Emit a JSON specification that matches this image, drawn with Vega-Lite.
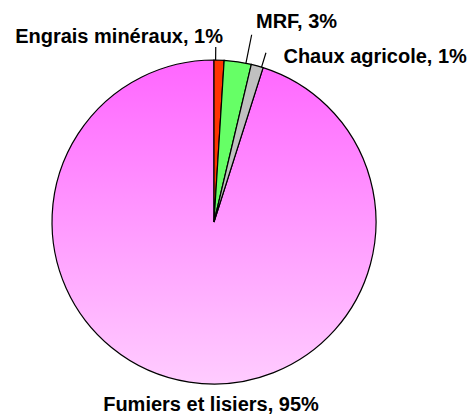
{
  "$schema": "https://vega.github.io/schema/vega-lite/v6.json",
  "width": 428,
  "height": 444,
  "autosize": {"type": "none"},
  "padding": {"left": 0, "top": 0, "right": 45, "bottom": 0},
  "background": "white",
  "config": {"view": {"stroke": null}},
  "data": {
    "values": [
      {"category": "Engrais minéraux", "value": 1.0, "label": "Engrais minéraux, 1%"},
      {"category": "MRF", "value": 2.7, "label": "MRF, 3%"},
      {"category": "Chaux agricole", "value": 1.2, "label": "Chaux agricole, 1%"},
      {"category": "Fumiers et lisiers", "value": 95.1, "label": "Fumiers et lisiers, 95%"}
    ]
  },
  "transform": [{"stack": "value", "groupby": [], "as": ["start", "end"]}],
  "layer": [
    {
      "transform": [{"filter": "datum.category === 'Fumiers et lisiers'"}],
      "mark": {
        "type": "arc",
        "radius": 162,
        "stroke": "black",
        "strokeWidth": 1.2,
        "fill": {
          "gradient": "linear",
          "x1": 0, "y1": 0, "x2": 0, "y2": 1,
          "stops": [
            {"offset": 0, "color": "#FF66FF"},
            {"offset": 1, "color": "#FFCCFF"}
          ]
        }
      },
      "encoding": {
        "theta": {"field": "start", "type": "quantitative", "scale": {"domain": [0, 100]}},
        "theta2": {"field": "end"}
      }
    },
    {
      "transform": [{"filter": "datum.category !== 'Fumiers et lisiers'"}],
      "mark": {"type": "arc", "radius": 162, "stroke": "black", "strokeWidth": 1.2},
      "encoding": {
        "theta": {"field": "start", "type": "quantitative"},
        "theta2": {"field": "end"},
        "color": {
          "field": "category",
          "type": "nominal",
          "scale": {
            "domain": ["Engrais minéraux", "MRF", "Chaux agricole"],
            "range": ["#FF3300", "#66FF66", "#C0C0C0"]
          },
          "legend": null
        }
      }
    },
    {
      "transform": [{"filter": "datum.category === 'Engrais minéraux'"}],
      "mark": {"type": "arc", "radius": 175, "radius2": 162, "stroke": "black", "strokeWidth": 1.2, "thetaOffset": 0.01, "theta2Offset": 0.01},
      "encoding": {
        "theta": {"field": "start", "type": "quantitative"},
        "theta2": {"field": "start"}
      }
    },
    {
      "transform": [{"filter": "datum.category === 'MRF'"}],
      "mark": {"type": "arc", "radius": 191, "radius2": 162, "stroke": "black", "strokeWidth": 1.2, "thetaOffset": -0.034, "theta2Offset": -0.034},
      "encoding": {
        "theta": {"field": "end", "type": "quantitative"},
        "theta2": {"field": "end"}
      }
    },
    {
      "transform": [{"filter": "datum.category === 'Chaux agricole'"}],
      "mark": {"type": "arc", "radius": 177, "radius2": 162, "stroke": "black", "strokeWidth": 1.2, "thetaOffset": -0.01, "theta2Offset": -0.01},
      "encoding": {
        "theta": {"field": "end", "type": "quantitative"},
        "theta2": {"field": "end"}
      }
    },
    {
      "transform": [{"filter": "datum.category === 'Engrais minéraux'"}],
      "mark": {"type": "text", "radius": 179.3, "align": "right", "baseline": "alphabetic", "dx": 9, "font": "Liberation Sans", "fontSize": 20, "fontWeight": "bold", "color": "black"},
      "encoding": {
        "theta": {"field": "start", "type": "quantitative"},
        "text": {"field": "label"}
      }
    },
    {
      "transform": [{"filter": "datum.category === 'MRF'"}],
      "mark": {"type": "text", "radius": 199.7, "align": "left", "baseline": "alphabetic", "dx": -4, "font": "Liberation Sans", "fontSize": 20, "fontWeight": "bold", "color": "black"},
      "encoding": {
        "theta": {"field": "end", "type": "quantitative"},
        "text": {"field": "label"}
      }
    },
    {
      "transform": [{"filter": "datum.category === 'Chaux agricole'"}],
      "mark": {"type": "text", "radius": 166.5, "align": "left", "baseline": "alphabetic", "dx": 19, "font": "Liberation Sans", "fontSize": 20, "fontWeight": "bold", "color": "black"},
      "encoding": {
        "theta": {"field": "end", "type": "quantitative"},
        "text": {"field": "label"}
      }
    },
    {
      "transform": [{"filter": "datum.category === 'Fumiers et lisiers'"}],
      "mark": {"type": "text", "radius": 0, "align": "center", "baseline": "alphabetic", "dx": -3, "dy": 189, "font": "Liberation Sans", "fontSize": 20, "fontWeight": "bold", "color": "black"},
      "encoding": {
        "theta": {"field": "start", "type": "quantitative"},
        "text": {"field": "label"}
      }
    }
  ]
}
